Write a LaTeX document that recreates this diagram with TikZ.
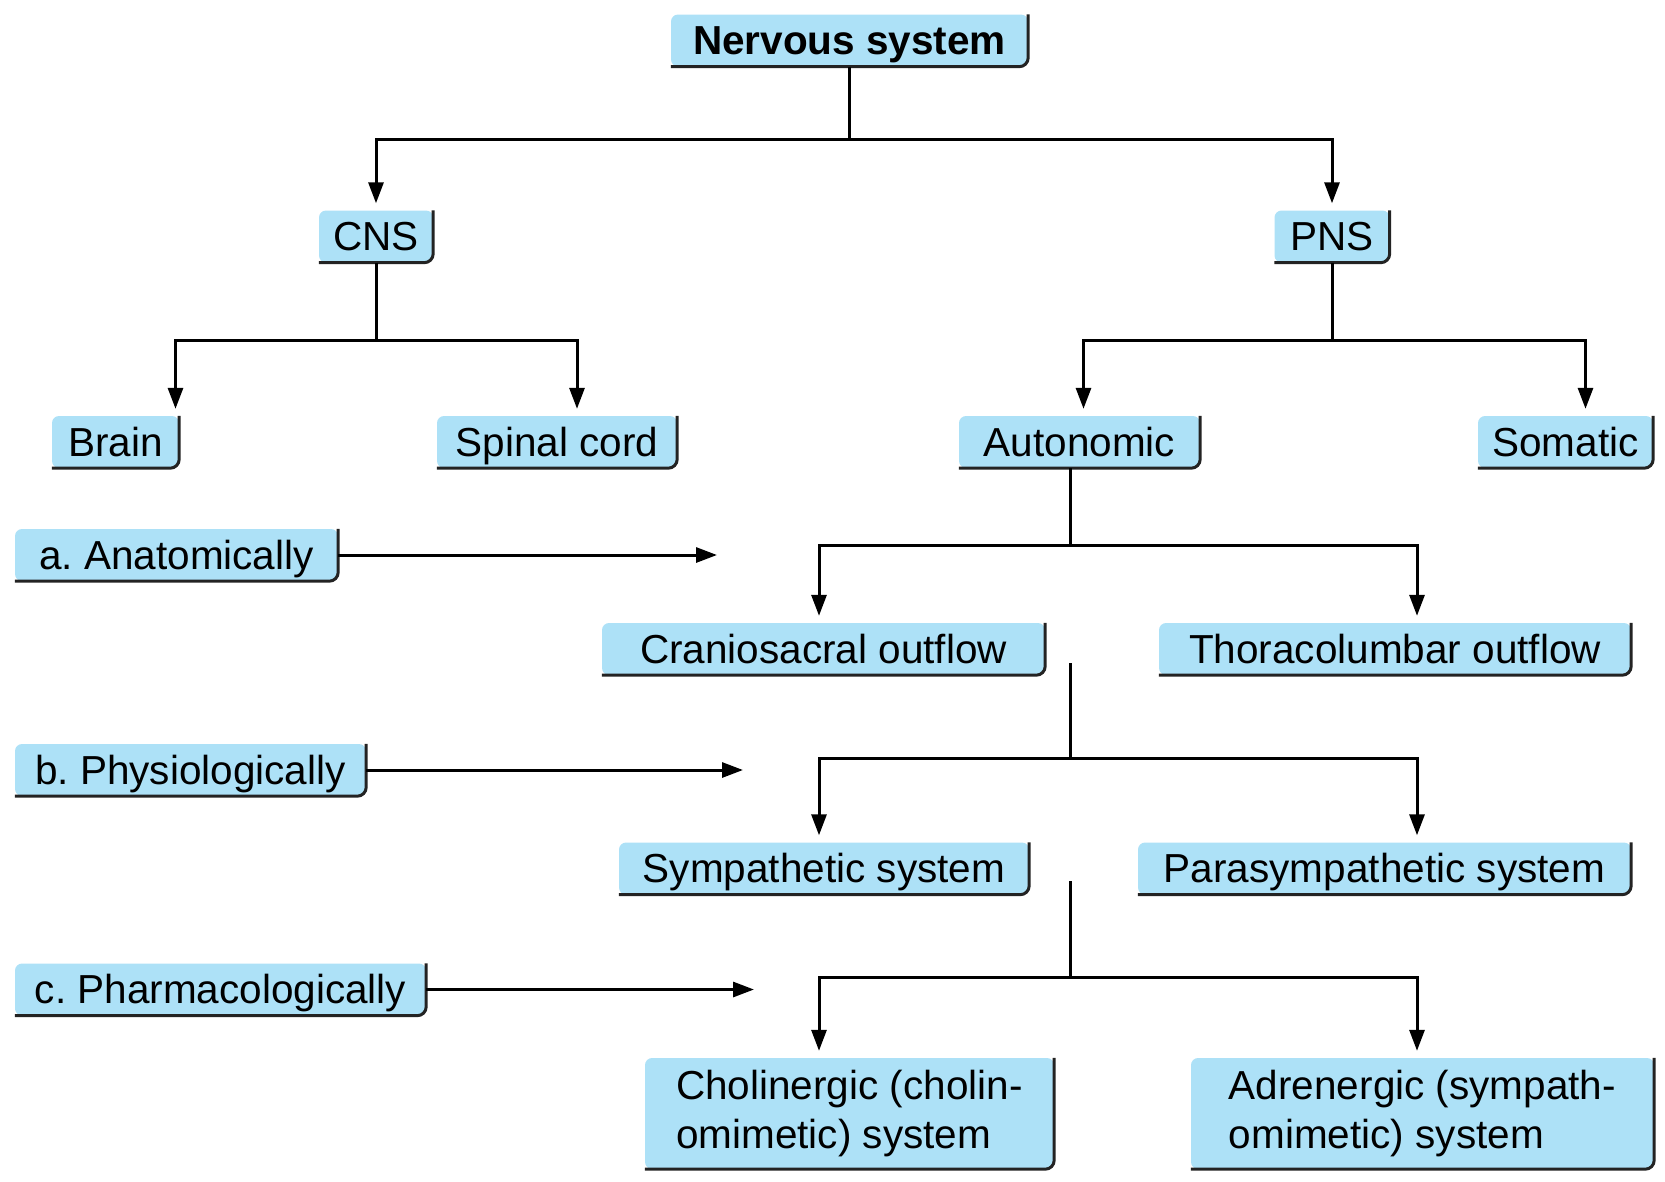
\documentclass[tikz,border=0pt]{standalone}
\usepackage{fontspec}
\setmainfont{Liberation Sans}
\usetikzlibrary{arrows.meta,calc}
\definecolor{boxblue}{RGB}{173,225,247}
\definecolor{edgecol}{RGB}{35,35,35}
\begin{document}
\begin{tikzpicture}[x=1pt,y=-1pt,
  bxbase/.style={fill=boxblue, rounded corners=7pt, inner sep=0pt, font=\fontsize{40.5}{49}\selectfont\frenchspacing},
  bx/.style={bxbase, minimum height=52pt, text height=28.6pt, text depth=0pt},
  bxtwo/.style={bxbase, minimum height=111pt, align=left},
  conn/.style={line width=3pt, draw=black},
  arr/.style={conn, -{Triangle[length=21pt,width=15pt]}, shorten >=7pt},
  sidearr/.style={conn, -{Triangle[length=21pt,width=15pt]}},
  edgeline/.style={line width=3pt, draw=edgecol, rounded corners=9pt},
]
\useasboundingbox (0,0) rectangle (1665,1181);

% nodes
\node[bx, minimum width=357pt, font=\fontsize{40.5}{49}\selectfont\bfseries] (ns) at (849.5,40.5) {Nervous system};
\node[bx, minimum width=114pt] (cns) at (376,236.5) {CNS};
\node[bx, minimum width=115pt] (pns) at (1332,236.5) {PNS};
\node[bx, minimum width=127pt] (brain) at (115.5,442) {Brain};
\node[bx, minimum width=240pt] (spinal) at (557,442) {Spinal cord};
\node[bx, minimum width=241pt] (auto) at (1079.5,442) {Autonomic};
\node[bx, minimum width=175pt] (som) at (1565.5,442) {Somatic};
\node[bx, minimum width=323pt] (la) at (176.5,555) {a. Anatomically};
\node[bx, minimum width=443pt] (cran) at (823.5,649) {Craniosacral outflow};
\node[bx, minimum width=472pt] (thor) at (1395,649) {Thoracolumbar outflow};
\node[bx, minimum width=351pt] (lb) at (190.5,770) {b. Physiologically};
\node[bx, minimum width=410pt] (symp) at (824,868.5) {Sympathetic system};
\node[bx, minimum width=493pt] (para) at (1384.5,868.5) {Parasympathetic system};
\node[bx, minimum width=411pt] (lc) at (220.5,989.5) {c. Pharmacologically};
\node[bxtwo, minimum width=409pt] (chol) at (849.5,1113.5) {Cholinergic (cholin-\\omimetic) system};
\node[bxtwo, minimum width=463pt] (adr) at (1422.5,1113.5) {Adrenergic (sympath-\\omimetic) system};

% dark right/bottom edges
\foreach \n in {ns,cns,pns,brain,spinal,auto,som,la,cran,thor,lb,symp,para,lc,chol,adr}
  \draw[edgeline] (\n.north east) -- (\n.south east) -- (\n.south west);

% junction coordinates
\coordinate (j0) at (849.5,139);
\coordinate (j1) at (376,340);
\coordinate (j2) at (1332,340);
\coordinate (j3) at (1070,545);
\coordinate (s4) at (1070,663);
\coordinate (j4) at (1070,758);
\coordinate (s5) at (1070,881);
\coordinate (j5) at (1070,977);
\coordinate (ea) at (717,554);
\coordinate (eb) at (743,768);
\coordinate (ec) at (754,990);

% connectors
\draw[conn] (ns.south) -- (j0);
\draw[arr] (j0) -| (cns.north);
\draw[arr] (j0) -| (pns.north);

\draw[conn] (cns.south) -- (j1);
\draw[arr] (j1) -| ([xshift=60pt]brain.north);
\draw[arr] (j1) -| ([xshift=20pt]spinal.north);

\draw[conn] (pns.south) -- (j2);
\draw[arr] (j2) -| ([xshift=4pt]auto.north);
\draw[arr] (j2) -| ([xshift=20pt]som.north);

\draw[conn] ([xshift=-9.5pt]auto.south) -- (j3);
\draw[arr] (j3) -| ([xshift=-4.5pt]cran.north);
\draw[arr] (j3) -| ([xshift=22pt]thor.north);

\draw[conn] (s4) -- (j4);
\draw[arr] (j4) -| ([xshift=-5pt]symp.north);
\draw[arr] (j4) -| ([xshift=32.5pt]para.north);

\draw[conn] (s5) -- (j5);
\draw[arr] (j5) -| ([xshift=-30.5pt]chol.north);
\draw[arr] (j5) -| ([xshift=-5.5pt]adr.north);

\draw[sidearr] (la.east) -- (la.east -| ea);
\draw[sidearr] (lb.east) -- (lb.east -| eb);
\draw[sidearr] (lc.east) -- (lc.east -| ec);
\end{tikzpicture}
\end{document}
